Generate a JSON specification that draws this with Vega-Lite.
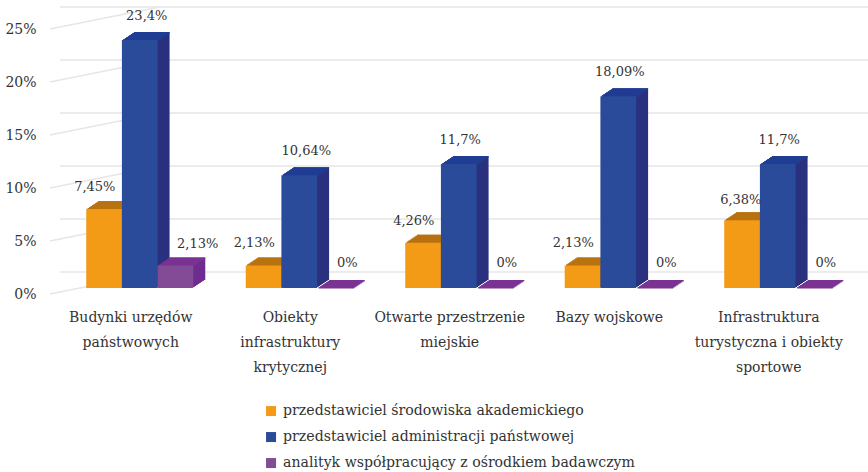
{"$schema":"https://vega.github.io/schema/vega-lite/v6.json","width":797.5,"height":265,"autosize":"none","padding":{"left":60,"top":23,"right":10.5,"bottom":184},"background":"white","config":{"view":{"stroke":null},"font":"DejaVu Serif"},
"datasets":{"bars":[
{"category":"Budynki urzędów państwowych","series":"przedstawiciel środowiska akademickiego","value":7.45,"label":"7,45%"},
{"category":"Budynki urzędów państwowych","series":"przedstawiciel administracji państwowej","value":23.4,"label":"23,4%"},
{"category":"Budynki urzędów państwowych","series":"analityk współpracujący z ośrodkiem badawczym","value":2.13,"label":"2,13%"},
{"category":"Obiekty infrastruktury krytycznej","series":"przedstawiciel środowiska akademickiego","value":2.13,"label":"2,13%"},
{"category":"Obiekty infrastruktury krytycznej","series":"przedstawiciel administracji państwowej","value":10.64,"label":"10,64%"},
{"category":"Obiekty infrastruktury krytycznej","series":"analityk współpracujący z ośrodkiem badawczym","value":0,"label":"0%"},
{"category":"Otwarte przestrzenie miejskie","series":"przedstawiciel środowiska akademickiego","value":4.26,"label":"4,26%"},
{"category":"Otwarte przestrzenie miejskie","series":"przedstawiciel administracji państwowej","value":11.7,"label":"11,7%"},
{"category":"Otwarte przestrzenie miejskie","series":"analityk współpracujący z ośrodkiem badawczym","value":0,"label":"0%"},
{"category":"Bazy wojskowe","series":"przedstawiciel środowiska akademickiego","value":2.13,"label":"2,13%"},
{"category":"Bazy wojskowe","series":"przedstawiciel administracji państwowej","value":18.09,"label":"18,09%"},
{"category":"Bazy wojskowe","series":"analityk współpracujący z ośrodkiem badawczym","value":0,"label":"0%"},
{"category":"Infrastruktura turystyczna i obiekty sportowe","series":"przedstawiciel środowiska akademickiego","value":6.38,"label":"6,38%"},
{"category":"Infrastruktura turystyczna i obiekty sportowe","series":"przedstawiciel administracji państwowej","value":11.7,"label":"11,7%"},
{"category":"Infrastruktura turystyczna i obiekty sportowe","series":"analityk współpracujący z ośrodkiem badawczym","value":0,"label":"0%"}],
"ticks":[{"tick":0},{"tick":5},{"tick":10},{"tick":15},{"tick":20},{"tick":25}]},
"layer":[
{"data":{"name":"ticks"},"mark":{"type":"rule","color":"#e6e6e6","strokeWidth":1.5,"xOffset":20,"yOffset":-16},"encoding":{"y":{"field":"tick","type":"quantitative","scale":{"domain":[0,25],"nice":false},"axis":{"title":null,"values":[0,5,10,15,20,25],"grid":false,"domain":false,"ticks":false,"labelExpr":"datum.value+'%'","labelFont":"DejaVu Serif","labelFontSize":14,"labelColor":"#333","labelPadding":24,"labelOffset":6}}}},
{"data":{"name":"ticks"},"mark":{"type":"rule","color":"#e6e6e6","strokeWidth":1.5,"xOffset":-10,"x2Offset":20,"yOffset":6,"y2Offset":-16},"encoding":{"y":{"field":"tick","type":"quantitative"},"y2":{"field":"tick"},"x":{"datum":"Budynki urzędów państwowych","bandPosition":0,"type":"nominal"},"x2":{"datum":"Budynki urzędów państwowych"}}},
{"data":{"name":"bars"},
"encoding":{"x":{"field":"category","type":"nominal","sort":null,"scale":{"domain":["Budynki urzędów państwowych","Obiekty infrastruktury krytycznej","Otwarte przestrzenie miejskie","Bazy wojskowe","Infrastruktura turystyczna i obiekty sportowe"],"paddingInner":0,"paddingOuter":0},"axis":{"title":null,"domain":false,"ticks":false,"labelAngle":0,"labelAlign":"center","labelFont":"DejaVu Serif","labelFontSize":14,"labelColor":"#333","labelPadding":22,"labelOffset":-9,"labelLineHeight":25,"labelLimit":300,"labelBaseline":"top","labelExpr":"datum.label=='Budynki urzędów państwowych'?['Budynki urzędów','państwowych']:datum.label=='Obiekty infrastruktury krytycznej'?['Obiekty','infrastruktury','krytycznej']:datum.label=='Otwarte przestrzenie miejskie'?['Otwarte przestrzenie','miejskie']:datum.label=='Infrastruktura turystyczna i obiekty sportowe'?['Infrastruktura','turystyczna i obiekty','sportowe']:datum.label"}},
"y":{"field":"value","type":"quantitative","title":null}},
"resolve":{"scale":{"color":"independent","xOffset":"independent"}},
"layer":[
{"mark":{"type":"bar","yOffset":-8},"encoding":{"xOffset":{"field":"series","type":"nominal","sort":null,"scale":{"range":[12,171.5],"paddingInner":0,"paddingOuter":0.735}},"color":{"field":"series","sort":null,"legend":null,"scale":{"range":["#B8720F","#2A327F","#6E2C90"]}}}},
{"mark":{"type":"bar","yOffset":-7},"encoding":{"xOffset":{"field":"series","type":"nominal","sort":null,"scale":{"range":[10.5,170],"paddingInner":0,"paddingOuter":0.735}},"color":{"field":"series","sort":null,"legend":null,"scale":{"range":["#B8720F","#2A327F","#6E2C90"]}}}},
{"mark":{"type":"bar","yOffset":-6},"encoding":{"xOffset":{"field":"series","type":"nominal","sort":null,"scale":{"range":[9,168.5],"paddingInner":0,"paddingOuter":0.735}},"color":{"field":"series","sort":null,"legend":null,"scale":{"range":["#B8720F","#2A327F","#6E2C90"]}}}},
{"mark":{"type":"bar","yOffset":-5},"encoding":{"xOffset":{"field":"series","type":"nominal","sort":null,"scale":{"range":[7.5,167],"paddingInner":0,"paddingOuter":0.735}},"color":{"field":"series","sort":null,"legend":null,"scale":{"range":["#B8720F","#2A327F","#6E2C90"]}}}},
{"mark":{"type":"bar","yOffset":-4},"encoding":{"xOffset":{"field":"series","type":"nominal","sort":null,"scale":{"range":[6,165.5],"paddingInner":0,"paddingOuter":0.735}},"color":{"field":"series","sort":null,"legend":null,"scale":{"range":["#B8720F","#2A327F","#6E2C90"]}}}},
{"mark":{"type":"bar","yOffset":-3},"encoding":{"xOffset":{"field":"series","type":"nominal","sort":null,"scale":{"range":[4.5,164],"paddingInner":0,"paddingOuter":0.735}},"color":{"field":"series","sort":null,"legend":null,"scale":{"range":["#B8720F","#2A327F","#6E2C90"]}}}},
{"mark":{"type":"bar","yOffset":-2},"encoding":{"xOffset":{"field":"series","type":"nominal","sort":null,"scale":{"range":[3,162.5],"paddingInner":0,"paddingOuter":0.735}},"color":{"field":"series","sort":null,"legend":null,"scale":{"range":["#B8720F","#2A327F","#6E2C90"]}}}},
{"mark":{"type":"bar","yOffset":-1},"encoding":{"xOffset":{"field":"series","type":"nominal","sort":null,"scale":{"range":[1.5,161],"paddingInner":0,"paddingOuter":0.735}},"color":{"field":"series","sort":null,"legend":null,"scale":{"range":["#B8720F","#2A327F","#6E2C90"]}}}},
{"mark":{"type":"bar","yOffset":-8,"y2Offset":-6.5},"encoding":{"y2":{"field":"value"},"xOffset":{"field":"series","type":"nominal","sort":null,"scale":{"range":[12,171.5],"paddingInner":0,"paddingOuter":0.735}},"color":{"field":"series","sort":null,"legend":null,"scale":{"range":["#B8720F","#1F3E93","#7A3392"]}}}},
{"mark":{"type":"bar","yOffset":-7,"y2Offset":-5.5},"encoding":{"y2":{"field":"value"},"xOffset":{"field":"series","type":"nominal","sort":null,"scale":{"range":[10.5,170],"paddingInner":0,"paddingOuter":0.735}},"color":{"field":"series","sort":null,"legend":null,"scale":{"range":["#B8720F","#1F3E93","#7A3392"]}}}},
{"mark":{"type":"bar","yOffset":-6,"y2Offset":-4.5},"encoding":{"y2":{"field":"value"},"xOffset":{"field":"series","type":"nominal","sort":null,"scale":{"range":[9,168.5],"paddingInner":0,"paddingOuter":0.735}},"color":{"field":"series","sort":null,"legend":null,"scale":{"range":["#B8720F","#1F3E93","#7A3392"]}}}},
{"mark":{"type":"bar","yOffset":-5,"y2Offset":-3.5},"encoding":{"y2":{"field":"value"},"xOffset":{"field":"series","type":"nominal","sort":null,"scale":{"range":[7.5,167],"paddingInner":0,"paddingOuter":0.735}},"color":{"field":"series","sort":null,"legend":null,"scale":{"range":["#B8720F","#1F3E93","#7A3392"]}}}},
{"mark":{"type":"bar","yOffset":-4,"y2Offset":-2.5},"encoding":{"y2":{"field":"value"},"xOffset":{"field":"series","type":"nominal","sort":null,"scale":{"range":[6,165.5],"paddingInner":0,"paddingOuter":0.735}},"color":{"field":"series","sort":null,"legend":null,"scale":{"range":["#B8720F","#1F3E93","#7A3392"]}}}},
{"mark":{"type":"bar","yOffset":-3,"y2Offset":-1.5},"encoding":{"y2":{"field":"value"},"xOffset":{"field":"series","type":"nominal","sort":null,"scale":{"range":[4.5,164],"paddingInner":0,"paddingOuter":0.735}},"color":{"field":"series","sort":null,"legend":null,"scale":{"range":["#B8720F","#1F3E93","#7A3392"]}}}},
{"mark":{"type":"bar","yOffset":-2,"y2Offset":-0.5},"encoding":{"y2":{"field":"value"},"xOffset":{"field":"series","type":"nominal","sort":null,"scale":{"range":[3,162.5],"paddingInner":0,"paddingOuter":0.735}},"color":{"field":"series","sort":null,"legend":null,"scale":{"range":["#B8720F","#1F3E93","#7A3392"]}}}},
{"mark":{"type":"bar","yOffset":-1,"y2Offset":0.5},"encoding":{"y2":{"field":"value"},"xOffset":{"field":"series","type":"nominal","sort":null,"scale":{"range":[1.5,161],"paddingInner":0,"paddingOuter":0.735}},"color":{"field":"series","sort":null,"legend":null,"scale":{"range":["#B8720F","#1F3E93","#7A3392"]}}}},
{"mark":{"type":"bar"},"encoding":{"xOffset":{"field":"series","type":"nominal","sort":null,"scale":{"range":[0,159.5],"paddingInner":0,"paddingOuter":0.735}},"color":{"field":"series","sort":null,"scale":{"range":["#F39A16","#2A4A9A","#834A95"]},"legend":{"title":null,"orient":"none","legendX":204,"legendY":381,"symbolType":"square","symbolSize":100,"symbolStrokeWidth":0,"labelFont":"DejaVu Serif","labelFontSize":14.1,"labelColor":"#333","labelLimit":400,"rowPadding":11,"labelOffset":5,"direction":"vertical"}}}},
{"transform":[{"filter":"datum.series=='przedstawiciel środowiska akademickiego' && datum.value!=6.38"}],"mark":{"type":"text","font":"DejaVu Serif","baseline":"middle","dy":-22,"dx":1,"fontSize":13,"color":"#333"},"encoding":{"xOffset":{"field":"series","type":"nominal","scale":{"domain":["przedstawiciel środowiska akademickiego","przedstawiciel administracji państwowej","analityk współpracujący z ośrodkiem badawczym"],"range":[0,159.5],"paddingInner":0,"paddingOuter":0.735}},"text":{"field":"label"}}},
{"transform":[{"filter":"datum.series=='przedstawiciel środowiska akademickiego' && datum.value==6.38"}],"mark":{"type":"text","font":"DejaVu Serif","baseline":"middle","dy":-20,"dx":9,"fontSize":13,"color":"#333"},"encoding":{"xOffset":{"field":"series","type":"nominal","scale":{"domain":["przedstawiciel środowiska akademickiego","przedstawiciel administracji państwowej","analityk współpracujący z ośrodkiem badawczym"],"range":[0,159.5],"paddingInner":0,"paddingOuter":0.735}},"text":{"field":"label"}}},
{"transform":[{"filter":"datum.series=='przedstawiciel administracji państwowej' && datum.value!=11.7 && datum.value!=18.09"}],"mark":{"type":"text","font":"DejaVu Serif","baseline":"middle","dy":-24,"dx":7,"fontSize":13,"color":"#333"},"encoding":{"xOffset":{"field":"series","type":"nominal","scale":{"domain":["przedstawiciel środowiska akademickiego","przedstawiciel administracji państwowej","analityk współpracujący z ośrodkiem badawczym"],"range":[0,159.5],"paddingInner":0,"paddingOuter":0.735}},"text":{"field":"label"}}},
{"transform":[{"filter":"datum.series=='przedstawiciel administracji państwowej' && (datum.value==11.7 || datum.value==18.09)"}],"mark":{"type":"text","font":"DejaVu Serif","baseline":"middle","dy":-24,"dx":1.5,"fontSize":13,"color":"#333"},"encoding":{"xOffset":{"field":"series","type":"nominal","scale":{"domain":["przedstawiciel środowiska akademickiego","przedstawiciel administracji państwowej","analityk współpracujący z ośrodkiem badawczym"],"range":[0,159.5],"paddingInner":0,"paddingOuter":0.735}},"text":{"field":"label"}}},
{"transform":[{"filter":"datum.series=='analityk współpracujący z ośrodkiem badawczym' && datum.value==0"}],"mark":{"type":"text","font":"DejaVu Serif","baseline":"middle","dy":-25,"dx":2,"fontSize":13,"color":"#333"},"encoding":{"xOffset":{"field":"series","type":"nominal","scale":{"domain":["przedstawiciel środowiska akademickiego","przedstawiciel administracji państwowej","analityk współpracujący z ośrodkiem badawczym"],"range":[0,159.5],"paddingInner":0,"paddingOuter":0.735}},"text":{"field":"label"}}},
{"transform":[{"filter":"datum.series=='analityk współpracujący z ośrodkiem badawczym' && datum.value!=0"}],"mark":{"type":"text","font":"DejaVu Serif","baseline":"middle","dy":-21,"dx":12,"fontSize":13,"color":"#333"},"encoding":{"xOffset":{"field":"series","type":"nominal","scale":{"domain":["przedstawiciel środowiska akademickiego","przedstawiciel administracji państwowej","analityk współpracujący z ośrodkiem badawczym"],"range":[0,159.5],"paddingInner":0,"paddingOuter":0.735}},"text":{"field":"label"}}}
]}
]}
